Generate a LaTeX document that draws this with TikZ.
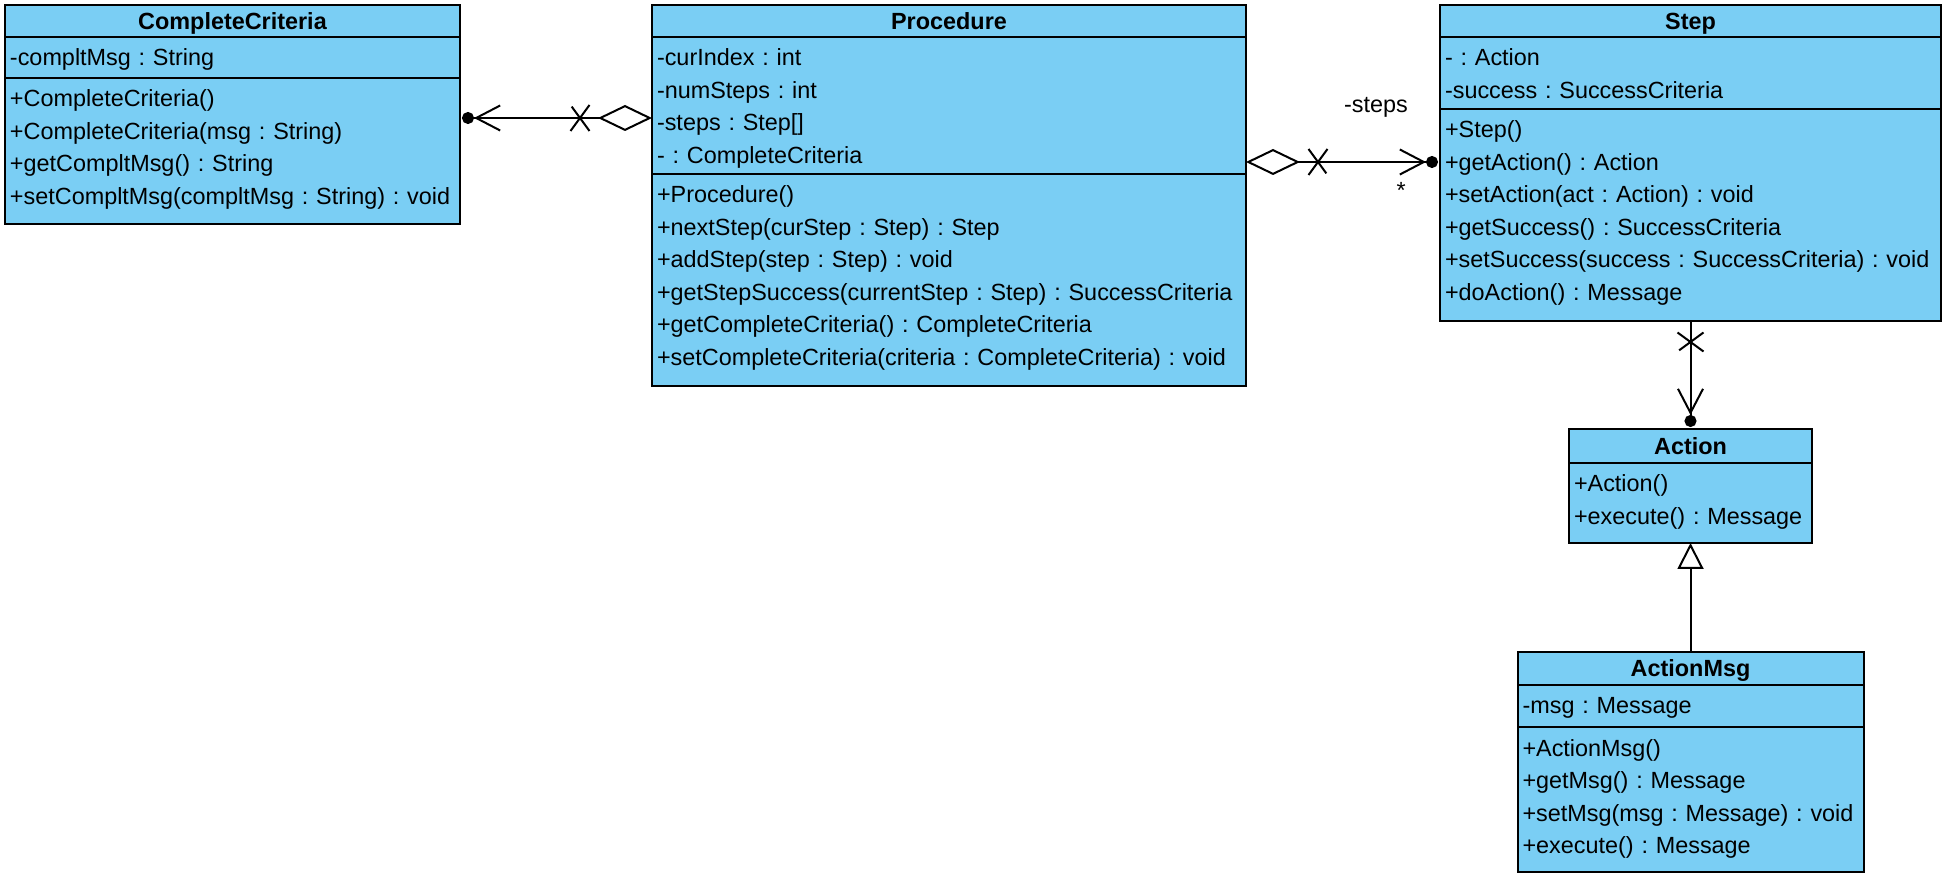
\documentclass[tikz,border=0pt]{standalone}
\usepackage{fontspec}
\setmainfont{Liberation Sans}
\usetikzlibrary{positioning,arrows.meta,decorations.markings}

\definecolor{classfill}{RGB}{122,206,244}
\newcommand{\umlfont}{\fontsize{11.7pt}{16.25pt}\selectfont\frenchspacing}

\tikzset{
  classhead/.style={draw, fill=classfill, line width=1pt, font=\umlfont\bfseries, outer sep=0pt,
    inner sep=0pt, minimum height=16pt, text height=8.4pt, text depth=0pt},
  classpart/.style={draw, fill=classfill, line width=1pt, font=\umlfont, outer sep=0pt,
    inner xsep=2.5pt, inner ysep=4.5pt, text height=10pt, align=left},
  xcross/.style={postaction={decorate, decoration={markings,
    mark=at position #1 with {\draw[-] (-4.75pt,-6.5pt) -- (4.75pt,6.5pt) (-4.75pt,6.5pt) -- (4.75pt,-6.5pt);}}}},
  aggrlink/.style={line width=1pt, shorten >=1pt, xcross=36pt,
    {Diamond[open,length=27pt,width=13pt]}-{Straight Barb[length=12pt,width=12.5pt,sep=0pt] Circle[length=6pt]}},
  navlink/.style={line width=1pt, shorten >=1pt, xcross=10.5pt,
    -{Straight Barb[length=12pt,width=12.5pt,sep=0pt] Circle[length=6pt]}},
  genlink/.style={line width=1pt, -{Triangle[open,length=13pt,width=13pt]}}
}

\begin{document}
\begin{tikzpicture}[x=0.5pt, y=-0.5pt, font=\umlfont]
  \useasboundingbox (0,0) rectangle (1950,881);

  % CompleteCriteria
  \node[classhead, minimum width=227.5pt, anchor=north west] (CC) at (5,5) {CompleteCriteria};
  \node[classpart, text width=222.5pt, text depth=1.5pt, below=0pt of CC] (CC-attr) {-compltMsg : String};
  \node[classpart, text width=222.5pt, text depth=54pt, below=0pt of CC-attr] (CC-ops)
    {+CompleteCriteria()\\+CompleteCriteria(msg : String)\\+getCompltMsg() : String\\+setCompltMsg(compltMsg : String) : void};

  % Procedure
  \node[classhead, minimum width=297pt, anchor=north west] (Proc) at (652,5) {Procedure};
  \node[classpart, text width=292pt, text depth=49.5pt, below=0pt of Proc] (Proc-attr)
    {-curIndex : int\\-numSteps : int\\-steps : Step[]\\- : CompleteCriteria};
  \node[classpart, text width=292pt, text depth=87pt, below=0pt of Proc-attr] (Proc-ops)
    {+Procedure()\\+nextStep(curStep : Step) : Step\\+addStep(step : Step) : void\\+getStepSuccess(currentStep : Step) : SuccessCriteria\\+getCompleteCriteria() : CompleteCriteria\\+setCompleteCriteria(criteria : CompleteCriteria) : void};

  % Step
  \node[classhead, minimum width=250.5pt, anchor=north west] (Step) at (1440,5) {Step};
  \node[classpart, text width=245.5pt, text depth=17pt, below=0pt of Step] (Step-attr)
    {- : Action\\-success : SuccessCriteria};
  \node[classpart, text width=245.5pt, text depth=87pt, below=0pt of Step-attr] (Step-ops)
    {+Step()\\+getAction() : Action\\+setAction(act : Action) : void\\+getSuccess() : SuccessCriteria\\+setSuccess(success : SuccessCriteria) : void\\+doAction() : Message};

  % Action
  \node[classhead, minimum width=121.5pt, minimum height=17pt, anchor=north west] (Action) at (1569,429) {Action};
  \node[classpart, text width=116.5pt, text depth=21pt, below=0pt of Action] (Action-ops)
    {+Action()\\+execute() : Message};

  % ActionMsg
  \node[classhead, minimum width=173pt, minimum height=16.5pt, anchor=north west] (AM) at (1517.5,652) {ActionMsg};
  \node[classpart, text width=168pt, text depth=2pt, below=0pt of AM] (AM-attr) {-msg : Message};
  \node[classpart, text width=168pt, text depth=53.5pt, below=0pt of AM-attr] (AM-ops)
    {+ActionMsg()\\+getMsg() : Message\\+setMsg(msg : Message) : void\\+execute() : Message};

  % links
  \draw[aggrlink] ([yshift=-6.25pt]Proc-attr.west) -- ([yshift=16.5pt]CC-ops.east);
  \draw[aggrlink] ([yshift=-28.25pt]Proc-attr.east) --
    node[pos=0.67, yshift=27.5pt] (stepsrole) {-steps}
    node[pos=0.8, yshift=-14pt] (stepsmult) {*} ([yshift=26.5pt]Step-ops.west);
  \draw[navlink] (Step-ops.south) -- (Action.north);
  \draw[genlink] (AM.north) -- (Action-ops.south);
\end{tikzpicture}
\end{document}
